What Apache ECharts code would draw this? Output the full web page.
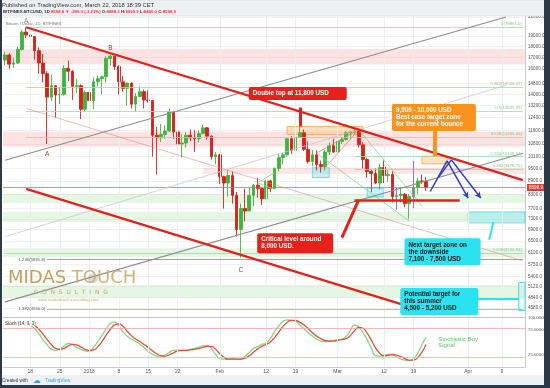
<!DOCTYPE html>
<html><head><meta charset="utf-8">
<script src="https://cdn.jsdelivr.net/npm/echarts@6/dist/echarts.min.js"></script>
<style>html,body{margin:0;padding:0;background:#fff}#c{width:550px;height:388px}</style>
</head><body><div id="c"></div>
<script>
// ---- categories (daily, 2017-12-12 .. 2018-04-14) ----
const dates = [];
for (let i = 0; i < 124; i++) {
  dates.push(new Date(Date.UTC(2017, 11, 12) + i * 86400000).toISOString().slice(0, 10));
}
// ---- OHLC (2017-12-12 .. 2018-03-22) ----
const opens = [16750,17200,16400,16500,17700,19400,19100,18950,17600,16500,
  15600,13800,14650,13950,14000,16050,15800,14600,14650,12950,
  14150,13550,14950,15200,15350,16900,17100,16200,14950,14450,
  14850,13300,13850,14200,13600,13550,11300,11150,11350,11550,
  12800,11500,10800,10850,11300,11150,11100,11400,11750,11250,
  10100,10200,9100,8800,9150,8250,6900,7700,7600,8250,
  8700,8550,8100,8900,8550,9500,10050,10200,11100,10450,
  11200,11450,10500,9850,10200,9700,9600,10350,10700,10350,
  10950,11050,11450,11500,11550,10750,9950,9350,9250,8800,
  9550,9150,9200,8200,8250,8300,7900,8200,8600,8900,
  8888.3];
const closes = [17200,16400,16500,17700,19400,19100,18950,17600,16500,15600,
  13800,14650,13950,14000,16050,15800,14600,14650,12950,14150,
  13550,14950,15200,15350,16900,17100,16200,14950,14450,14850,
  13300,13850,14200,13600,13550,11300,11150,11350,11550,12800,
  11500,10800,10850,11300,11150,11100,11400,11750,11250,10100,
  10200,9100,8800,9150,8250,6900,7700,7600,8250,8700,
  8550,8100,8900,8550,9500,10050,10200,11100,10450,11200,
  11450,10500,9850,10200,9700,9600,10350,10700,10350,10950,
  11050,11450,11500,11550,10750,9950,9350,9250,8800,9550,
  9150,9200,8200,8250,8300,7900,8200,8600,8900,8888.3,
  8598.9];
const highs = [17500,17350,16950,17950,19600,19891,19300,19000,17900,17300,
  15800,15500,14700,14550,16300,16700,15900,15150,14750,14300,
  14150,15300,15450,15450,17100,17250,17150,16300,15400,14900,
  14900,14100,14600,14350,14300,13600,11800,12000,11900,13000,
  12850,11950,11350,11500,11650,11600,11600,11950,11800,11300,
  10350,10250,9150,9450,9350,8400,7900,8550,8600,8750,
  9050,8550,8950,8950,9550,10250,10300,11100,11250,11300,
  11800,11650,10950,10450,10450,9900,10450,10900,11100,11100,
  11200,11550,11550,11750,11600,10900,10050,9450,9500,9750,
  9900,9450,9350,8450,8600,8350,8300,8700,9050,9200,
  9095.9];
const lows = [16300,16000,16100,16400,17600,18800,18100,16800,15600,14900,
  10800,13500,12400,13300,13900,15000,13600,14100,12300,12800,
  12850,12950,14600,14000,14900,16300,15900,14000,14200,13200,
  13000,12800,13800,13000,13400,10100,9200,10900,11100,11500,
  11100,10100,10050,10600,10950,10350,10900,11350,11050,9950,
  9700,8750,7700,8200,7900,6650,5950,7200,7600,7800,
  8150,7850,8100,8400,8550,9350,9700,10100,10250,10350,
  11150,10400,9750,9600,9400,9300,9400,10200,10300,10300,
  10800,11000,11050,11400,10600,9500,9050,8400,8750,8500,
  8800,8850,7950,7700,7950,7750,7300,8100,8300,8750,
  8450];
// ---- Stochastic %K (green) and %D (red) ----
const stochK = [88,89,90,90,91,90,86,78,68,56,45,36,34,37,43,48,46,40,36,33,
  32,40,52,64,78,89,92,84,72,63,57,52,47,40,32,26,22,20,24,30,
  34,35,34,34,36,38,40,43,44,38,26,17,16,16,17,16,16,22,30,38,
  42,46,49,58,72,84,93,96,95,93,86,78,70,63,57,53,52,53,54,56,
  57,62,74,86,82,70,56,38,23,22,24,25,26,21,16,14,13,16,28,45,
  61.2781];
const stochD = [86,88,89,90,90,90,89,85,77,67,56,46,38,36,38,43,46,45,41,36,
  34,35,41,52,65,77,86,88,83,73,64,57,52,46,40,33,27,23,22,25,
  29,33,34,34,35,36,38,40,42,42,36,27,20,16,16,16,16,18,23,30,
  37,42,46,51,60,71,83,91,95,95,91,86,78,70,63,58,54,53,53,54,
  56,58,64,74,81,79,69,55,39,28,23,24,25,24,21,17,14,14,19,30,
  45.7893];
// ---- tick labels ----
const priceTicks = [4580,4840,5120,5400,5750,6100,6500,6900,7300,7700,8300,8900,9500,10100,10800,11600,12400,13200,14000,14800,16000,17000,18000,19000,21000];
const stochTicks = [25,75,100];
const xTickDates = ['2017-12-18','2017-12-25','2018-01-01','2018-01-08','2018-01-15','2018-01-22','2018-02-01','2018-02-12','2018-02-19','2018-03-01','2018-03-12','2018-03-19','2018-04-01','2018-04-09'];
const xTickTexts = ['18','25','2018','8','15','22','Feb','12','19','Mar','12','19','Apr','9'];

const candles = opens.map((o, i) => [o, closes[i], lows[i], highs[i]]);
const xLabel = {}; xTickDates.forEach((d, i) => xLabel[d] = xTickTexts[i]);

const RED = '#e6201a', ORANGE = '#f7931e', CYAN = '#2ae2f0', BLUE = '#2b3ad0';
function seg(i1, p1, i2, p2, style, arrow, label) {
  const a = {coord: [dates[i1], p1], lineStyle: Object.assign({type: 'solid'}, style), symbol: 'none'};
  if (label) a.label = label;
  return [a, {coord: [dates[i2], p2], symbol: arrow ? 'arrow' : 'none', symbolSize: arrow ? [5, 6] : 0}];
}
function band(a, b, style, i1, i2) {
  const s = {yAxis: a, itemStyle: style}; if (i1 !== undefined) s.xAxis = dates[i1];
  const e = {yAxis: b}; if (i2 !== undefined) e.xAxis = dates[i2];
  return [s, e];
}
function callout(i, p, text, bg, color, w) {
  return {coord: [dates[i], p], symbol: 'rect', symbolSize: 1, itemStyle: {color: 'rgba(0,0,0,0)'},
    label: {show: true, position: [0, 0], align: 'left', verticalAlign: 'top', formatter: text,
      backgroundColor: bg, color: color, fontWeight: 'bold', fontSize: 6.3, lineHeight: 7,
      padding: [3, 4], borderRadius: 2, width: w, fontFamily: 'Liberation Sans'}};
}
function letter(i, p, t, color) {
  return {coord: [dates[i], p], symbol: 'rect', symbolSize: 1, itemStyle: {color: 'rgba(0,0,0,0)'},
    label: {show: true, position: 'inside', formatter: t, color: color, fontSize: 6.5, fontFamily: 'Liberation Sans'}};
}
const fibLab = (t) => ({show: true, position: 'insideEndTop', formatter: t, color: '#8cc88c', fontSize: 4.3, distance: 1});
const fibStyle = {color: '#a6d8a6', width: 0.8};
const solid = {type: 'solid'};

const option = {
  animation: false,
  backgroundColor: '#ffffff',
  grid: [
    {left: 3, right: 25, top: 16, height: 301},
    {left: 3, right: 25, top: 318, height: 49}
  ],
  xAxis: [
    {type: 'category', gridIndex: 0, data: dates, boundaryGap: true,
      axisLine: {show: true, lineStyle: {color: '#bfc4c9'}}, axisTick: {show: false}, axisLabel: {show: false}, splitLine: {show: false}},
    {type: 'category', gridIndex: 1, data: dates, boundaryGap: true,
      axisLine: {show: true, lineStyle: {color: '#c8ccd0'}}, axisTick: {show: false},
      axisLabel: {interval: (i, v) => xLabel[v] !== undefined, formatter: (v) => xLabel[v] || '',
        fontSize: 5, color: '#555', margin: 2, fontFamily: 'Liberation Sans'},
      splitLine: {show: false}}
  ],
  yAxis: [
    {type: 'log', gridIndex: 0, position: 'right', min: 4365, max: 21100,
      axisLine: {show: true, lineStyle: {color: '#c8ccd0'}},
      axisTick: {show: false, customValues: priceTicks},
      axisLabel: {customValues: priceTicks, formatter: (v) => Number(v).toFixed(1), fontSize: 4.6, color: '#555', margin: 3, fontFamily: 'Liberation Sans'},
      splitLine: {show: true, lineStyle: {color: '#f1f1f1', width: 1}}},
    {type: 'value', gridIndex: 1, position: 'right', min: 0, max: 100,
      axisLine: {show: true, lineStyle: {color: '#c8ccd0'}},
      axisTick: {show: false, customValues: stochTicks},
      axisLabel: {customValues: stochTicks, formatter: (v) => Number(v).toFixed(4), fontSize: 4.3, color: '#555', margin: 3, fontFamily: 'Liberation Sans'},
      splitLine: {show: false}}
  ],
  series: [
    // background bands and zones
    {type: 'line', xAxisIndex: 0, yAxisIndex: 0, data: [], z: 1, silent: true,
      markArea: {silent: true, data: [
        band(17745, 16400, {color: 'rgba(244,150,150,0.28)'}),
        band(11524, 10648, {color: 'rgba(244,150,150,0.28)'}),
        band(9536, 9236, {color: 'rgba(244,150,150,0.25)'}, 47),
        band(8314, 7931, {color: 'rgba(150,220,150,0.25)'}),
        band(7566, 7177, {color: 'rgba(150,220,150,0.25)'}),
        band(6259, 5970, {color: 'rgba(150,220,150,0.25)'}),
        band(5151, 4836, {color: 'rgba(150,220,150,0.25)'}),
        band(11831, 11343, {color: 'rgba(255,190,120,0.45)', borderColor: '#f6a552', borderWidth: 0.8}, 67, 85),
        band(10130, 9730, {color: 'rgba(255,190,120,0.45)', borderColor: '#f6a552', borderWidth: 0.8}, 99, 105),
        band(9536, 9058, {color: 'rgba(110,225,240,0.4)', borderColor: '#52d8e8', borderWidth: 0.8}, 73, 77),
        band(8575, 8180, {color: 'rgba(110,225,240,0.4)', borderColor: '#52d8e8', borderWidth: 0.8}, 86, 90),
        band(7566, 7142, {color: 'rgba(110,225,240,0.35)', borderColor: '#52d8e8', borderWidth: 0.8}, 110),
        band(5233, 4517, {color: 'rgba(110,225,240,0.15)', borderColor: '#52d8e8', borderWidth: 1}, 122)
      ]},
      markLine: {silent: true, symbol: 'none', label: {show: false}, lineStyle: solid, data:
        xTickDates.map(d => ({xAxis: d, lineStyle: {color: '#eeeeee', width: 1, type: 'solid'}}))}
    },
    {type: 'line', xAxisIndex: 1, yAxisIndex: 1, data: [], z: 1, silent: true,
      markLine: {silent: true, symbol: 'none', label: {show: false}, lineStyle: solid, data:
        xTickDates.map(d => ({xAxis: d, lineStyle: {color: '#eeeeee', width: 1, type: 'solid'}}))}
    },
    // thin level lines (under candles)
    {type: 'line', xAxisIndex: 0, yAxisIndex: 0, data: [], z: 2, silent: true,
      markLine: {silent: true, symbol: 'none', label: {show: false}, lineStyle: solid, data: [
        seg(5, 19891, 123, 19891, fibStyle, false, fibLab('0(19891.0)')),
        seg(5, 14526.47, 123, 14526.47, fibStyle, false, fibLab('0.382(14526.47)')),
        seg(5, 12845.93, 123, 12845.93, fibStyle, false, fibLab('0.5(12845.93)')),
        seg(5, 11205.41, 123, 11205.41, fibStyle, false, fibLab('0.618(11205.41)')),
        seg(83, 10109.54, 123, 10109.54, fibStyle, false, fibLab('0.236(10109.54)')),
        seg(83, 9478.75, 123, 9478.75, fibStyle, false, fibLab('0.382(9478.75)')),
        seg(0, 6100.94, 123, 6100.94, fibStyle, false, fibLab('1.618(6100.94)')),
        seg(10, 5891.8, 123, 5891.8, {color: '#a8965e', width: 0.9}, false,
          {show: true, position: 'start', formatter: '1.236(5891.8)', color: '#555', fontSize: 4.3, distance: 2}),
        seg(10, 4550.0, 123, 4550.0, {color: '#e59a9a', width: 0.9}, false,
          {show: true, position: 'start', formatter: '1.382(4550.0)', color: '#555', fontSize: 4.3, distance: 2}),
        {yAxis: 8598.9, lineStyle: {color: '#e8544f', width: 0.7, type: 'solid'},
          label: {show: true, position: 'end', formatter: '8598.9', color: '#fff', backgroundColor: '#e53935', fontSize: 4.6, padding: [1, 2], distance: 2}},
        seg(5, 13010, 123, 5855, {color: 'rgba(232,130,130,0.7)', width: 0.8}),
        seg(0, 6650, 119, 14690, {color: '#c9c9c9', width: 0.8}),
        seg(74, 10290, 84, 11640, {color: 'rgba(232,110,110,0.85)', width: 0.8}),
        seg(76, 9536, 84, 11640, {color: 'rgba(232,110,110,0.85)', width: 0.8}),
        seg(74, 10290, 96, 7217, {color: '#8fcf8f', width: 0.8}),
        seg(84, 11640, 99, 7810, {color: '#8fcf8f', width: 0.8}),
        seg(60, 8816, 64, 9285, {color: '#8fcf8f', width: 0.8}),
        seg(60, 8816, 64, 8509, {color: '#8fcf8f', width: 0.8}),
        seg(93, 8575, 93, 7647, {color: '#b066e0', width: 1}),
        seg(97, 9881, 97, 7720, {color: '#b066e0', width: 1})
      ]}
    },
    // candles
    {type: 'candlestick', xAxisIndex: 0, yAxisIndex: 0, data: candles, z: 3, barWidth: 3.2,
      itemStyle: {color: '#3fb53f', color0: '#d8221a', borderColor: '#3fb53f', borderColor0: '#d8221a', borderWidth: 0.9}},
    // trend lines, pointers, arrows, callouts
    {type: 'line', xAxisIndex: 0, yAxisIndex: 0, data: [], z: 4, silent: true,
      markLine: {silent: true, symbol: 'none', label: {show: false}, lineStyle: solid, data: [
        seg(0, 9918, 119, 21000, {color: '#8e8e8e', width: 1.1}),
        seg(0, 4725, 123, 10283, {color: '#8e8e8e', width: 1.1}),
        seg(5, 19891, 123, 8936, {color: RED, width: 2.2}),
        seg(5, 8537, 102, 4425, {color: RED, width: 2.2}),
        seg(83, 8057, 108, 8057, {color: RED, width: 2.5}),
        seg(70, 13070, 70, 11831, {color: RED, width: 3}),
        seg(102, 11949, 102, 10130, {color: ORANGE, width: 4}),
        seg(80, 6614, 84, 8057, {color: RED, width: 3}),
        seg(115, 6537, 116, 7177, {color: CYAN, width: 2}),
        seg(112, 4800, 122, 4800, {color: CYAN, width: 2}),
        seg(101, 8420, 105, 9881, {color: BLUE, width: 1.5}),
        seg(105, 9881, 110, 8136, {color: BLUE, width: 1.5}, true),
        seg(103, 9080, 106, 9935, {color: BLUE, width: 1.5}),
        seg(106, 9935, 113, 8136, {color: BLUE, width: 1.5}, true)
      ]},
      markPoint: {silent: true, data: [
        callout(58, 14520, 'Double top at 11,800 USD', RED, '#fff', 90),
        callout(92, 13277, '9,500 - 10,000 USD\nBest case target zone\nfor the current bounce', ORANGE, '#fff', 76),
        callout(60, 6752, 'Critical level around\n8,000 USD.', RED, '#fff', 68),
        callout(95, 6571, 'Next target zone on\nthe downside\n7,100 - 7,500 USD', CYAN, '#111', 68),
        callout(94, 5067, 'Potential target for\nthis summer\n4,500 - 5,200 USD', CYAN, '#111', 70),
        letter(10, 10258, 'A', '#c0392b'),
        letter(5, 20520, 'A', '#888'),
        letter(25, 17850, 'B', '#a3302a'),
        letter(56, 5570, 'C', '#555')
      ]}
    },
    // stochastic
    {type: 'line', name: '%K', xAxisIndex: 1, yAxisIndex: 1, data: stochK, smooth: true, symbol: 'none', z: 3,
      lineStyle: {color: '#86d486', width: 1.3},
      markLine: {silent: true, symbol: 'none', label: {show: false}, lineStyle: solid, data: [
        {yAxis: 80, lineStyle: {color: '#f3a3a3', width: 0.8, type: 'solid'}},
        {yAxis: 20, lineStyle: {color: '#a8dba8', width: 0.8, type: 'solid'}},
        {yAxis: 61.2781, lineStyle: {opacity: 0}, label: {show: true, position: 'end', formatter: '61.2781', color: '#fff', backgroundColor: '#4caf50', fontSize: 4.3, padding: [1, 2], distance: 2}},
        {yAxis: 45.7893, lineStyle: {opacity: 0}, label: {show: true, position: 'end', formatter: '45.7893', color: '#fff', backgroundColor: '#e53935', fontSize: 4.3, padding: [1, 2], distance: 2}}
      ]},
      markPoint: {silent: true, data: [
        {coord: [dates[103], 63], symbol: 'rect', symbolSize: 1, itemStyle: {color: 'rgba(0,0,0,0)'},
          label: {show: true, position: [0, 0], align: 'left', verticalAlign: 'top', formatter: 'Stochastic Buy\nSignal',
            color: '#5cc25c', fontSize: 6, lineHeight: 6.5, fontFamily: 'Liberation Sans'}}
      ]}
    },
    {type: 'line', name: '%D', xAxisIndex: 1, yAxisIndex: 1, data: stochD, smooth: true, symbol: 'none', z: 3,
      lineStyle: {color: '#e2503c', width: 1.3}}
  ],
  graphic: [
    {type: 'rect', z: 100, shape: {x: 0, y: 0, width: 550, height: 16}, style: {fill: '#eef1f4', stroke: '#d3d8de', lineWidth: 0.6}},
    {type: 'text', z: 101, x: 2, y: 5.5, style: {text: 'Published on TradingView.com, March 22, 2018 18:39 CET', fontSize: 5.8, fill: '#333', fontFamily: 'Liberation Sans', verticalAlign: 'middle'}},
    {type: 'text', z: 101, x: 3, y: 12.3, style: {
      text: '{d|BITFINEX:BTCUSD, 1D} {r|8598.9 \u25BC -289.3 (-3.23%)} {d|O:}{r|8888.3} {d|H:}{r|9095.9} {d|L:}{r|8450.0} {d|C:}{r|8598.9}',
      fontSize: 4.3, fontWeight: 'bold', fontFamily: 'Liberation Sans', verticalAlign: 'middle',
      rich: {d: {fill: '#333', fontSize: 4.3, fontWeight: 'bold'}, r: {fill: '#e53935', fontSize: 4.3, fontWeight: 'bold'}}}},
    {type: 'text', z: 101, x: 6, y: 23.5, style: {text: 'Bitcoin / Dollar, 1D, BITFINEX', fontSize: 4.2, fill: '#777', fontFamily: 'Liberation Sans', verticalAlign: 'middle'}},
    // logo
    {type: 'circle', z: 50, shape: {cx: 93, cy: 278.5, r: 5}, style: {fill: 'rgba(150,150,150,0.35)'}},
    {type: 'text', z: 51, x: 8, y: 278.5, style: {text: '{a|MIDAS} {b|TOUCH}', fontFamily: 'DejaVu Sans', fontSize: 18, verticalAlign: 'middle',
      rich: {a: {fill: 'rgba(192,150,70,0.9)', fontSize: 18, fontFamily: 'DejaVu Sans'}, b: {fill: 'rgba(205,170,105,0.9)', fontSize: 18, fontFamily: 'DejaVu Sans'}}}},
    {type: 'text', z: 51, x: 34, y: 292, style: {text: 'C  O  N  S  U  L  T  I  N  G', fontSize: 6, fill: 'rgba(198,160,90,0.9)', fontFamily: 'DejaVu Sans', verticalAlign: 'middle'}},
    {type: 'text', z: 51, x: 38, y: 300, style: {text: 'www.midastouch-consulting.com', fontSize: 4.2, fill: 'rgba(198,160,90,0.9)', fontFamily: 'Liberation Sans', verticalAlign: 'middle'}},
    // stoch title
    {type: 'text', z: 60, x: 5, y: 323.5, style: {text: 'Stoch (14, 3, 3)', fontSize: 4.5, fill: '#444', fontFamily: 'Liberation Sans', verticalAlign: 'middle', backgroundColor: 'rgba(255,255,255,0.8)'}},
    // footer
    {type: 'rect', z: 100, shape: {x: 0, y: 375, width: 550, height: 10}, style: {fill: '#eef1f4'}},
    {type: 'text', z: 101, x: 2, y: 380.5, style: {text: 'Created with', fontSize: 4.6, fill: '#333', fontFamily: 'Liberation Sans', verticalAlign: 'middle'}},
    {type: 'text', z: 101, x: 33, y: 380.5, style: {text: '\u2601', fontSize: 8, fill: '#3aa0ef', fontFamily: 'DejaVu Sans', verticalAlign: 'middle'}},
    {type: 'text', z: 101, x: 45, y: 380.5, style: {text: 'TradingView', fontSize: 4.6, fill: '#3aa0ef', fontFamily: 'Liberation Sans', verticalAlign: 'middle'}},
    // dark frame
    {type: 'rect', z: 120, shape: {x: 0, y: 0, width: 2, height: 388}, style: {fill: '#2c3a48'}},
    {type: 'rect', z: 120, shape: {x: 544, y: 0, width: 6, height: 388}, style: {fill: '#2c3a48'}},
    {type: 'rect', z: 120, shape: {x: 0, y: 385, width: 550, height: 3}, style: {fill: '#2c3a48'}}
  ]
};
const chart = echarts.init(document.getElementById('c'), null, {renderer: 'canvas', width: 550, height: 388});
chart.setOption(option);
</script>
</body></html>
